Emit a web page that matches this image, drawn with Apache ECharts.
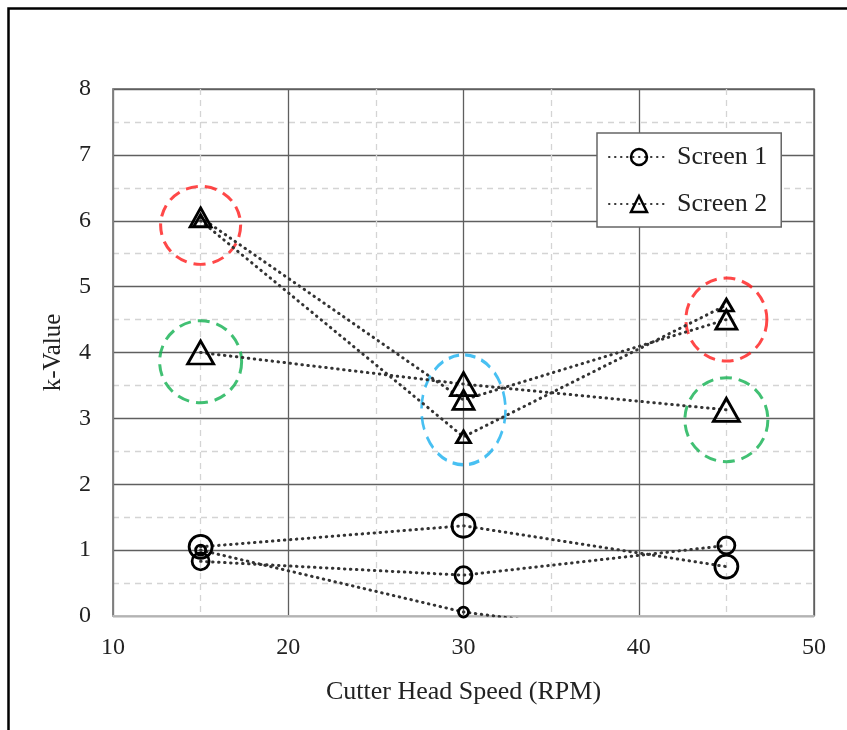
<!DOCTYPE html>
<html>
<head>
<meta charset="utf-8">
<script src="https://cdn.jsdelivr.net/npm/echarts@6/dist/echarts.min.js"></script>
<style>
html,body{margin:0;padding:0;background:#fff;}
#chart{width:847px;height:730px;}
</style>
</head>
<body>
<div id="chart"></div>
<script>
// ---- data ----
const speeds = [15, 30, 45];
const screen1Large  = [1.05, 1.37, 0.75];
const screen1Medium = [0.83, 0.62, 1.07];
const screen1Small  = [1.00, 0.06, -0.45];
const screen2Large  = [4.00, 3.52, 3.13];
const screen2Medium = [6.05, 3.28, 4.50];
const screen2Small  = [6.00, 2.72, 4.72];
const xTicks = [10, 20, 30, 40, 50];
const yTicks = [0, 1, 2, 3, 4, 5, 6, 7, 8];
// highlight ellipses: [x, y, width px, height px, colour]
const highlightX = [15, 15, 30, 45, 45];
const highlightY = [5.93, 3.86, 3.13, 4.50, 2.98];
const highlightW = [80, 82, 84, 81, 83];
const highlightH = [78, 82, 110, 83, 84];
const highlightC = ['#ff1a1a', '#12b050', '#1ab0ef', '#ff1a1a', '#12b050'];

const FONT = '"Liberation Serif", "Times New Roman", serif';

function pts(arr) { return speeds.map((x, i) => [x, arr[i]]); }

const lineStyle = { color: '#333', width: 3, type: [0.5, 5.5], cap: 'round' };
function mkLine(name, arr, symbol, size) {
  return {
    name: name, type: 'line', data: pts(arr), symbol: symbol, symbolSize: size,
    clip: true, lineStyle: lineStyle,
    itemStyle: { color: 'rgba(0,0,0,0)', borderColor: '#000', borderWidth: 2.8 },
    emphasis: { disabled: true }, z: 3
  };
}

const series = [
  mkLine('Screen 1', screen1Large, 'circle', 23),
  mkLine('Screen 1', screen1Medium, 'circle', 17),
  mkLine('Screen 1', screen1Small, 'circle', 10),
  mkLine('Screen 2', screen2Large, 'triangle', [26, 23]),
  mkLine('Screen 2', screen2Medium, 'triangle', [21, 19]),
  mkLine('Screen 2', screen2Small, 'triangle', [14, 12])
];
highlightX.forEach((x, i) => {
  series.push({
    name: 'hl' + i, type: 'scatter', data: [[x, highlightY[i]]],
    symbol: 'circle', symbolSize: [highlightW[i], highlightH[i]],
    itemStyle: { color: 'rgba(0,0,0,0)', borderColor: highlightC[i], borderWidth: 3, borderType: [12, 7] },
    emphasis: { disabled: true }, z: 2, silent: true
  });
});

const chart = echarts.init(document.getElementById('chart'));
chart.setOption({
  animation: false,
  backgroundColor: '#fff',
  graphic: [{
    type: 'rect', left: 6, top: 6, z: 100, silent: true,
    shape: { width: 900, height: 800 },
    style: { fill: 'none', stroke: '#000', lineWidth: 2.5 }
  }],
  grid: { left: 113, right: 33, top: 89, bottom: 114, show: true, borderColor: '#666', borderWidth: 1.5 },
  legend: {
    data: [
      { name: 'Screen 1', itemStyle: { borderWidth: 2.5 } },
      { name: 'Screen 2', itemStyle: { borderWidth: 2.5 } }
    ],
    orient: 'vertical', left: 597, top: 133,
    padding: [11, 14, 10, 11], itemWidth: 60, itemHeight: 20, itemGap: 21,
    backgroundColor: '#fff', borderColor: '#666', borderWidth: 1.5,
    textStyle: { fontFamily: FONT, fontSize: 26, color: '#222', lineHeight: 26, padding: [0, 0, 0, 3] }
  },
  xAxis: {
    type: 'value', min: xTicks[0], max: xTicks[xTicks.length - 1], interval: 10,
    name: 'Cutter Head Speed (RPM)', nameLocation: 'middle', nameGap: 63,
    nameTextStyle: { fontFamily: FONT, fontSize: 26, color: '#222' },
    axisLine: { show: true, lineStyle: { color: '#d0d0d0', width: 1.5 } },
    axisTick: { show: false },
    axisLabel: { fontFamily: FONT, fontSize: 24, color: '#222', margin: 20 },
    splitLine: { show: true, lineStyle: { color: '#5f5f5f', width: 1.3 } },
    minorTick: { show: false, splitNumber: 2 },
    minorSplitLine: { show: true, lineStyle: { color: '#d4d4d4', width: 1.3, type: [6, 5] } }
  },
  yAxis: {
    type: 'value', min: yTicks[0], max: yTicks[yTicks.length - 1], interval: 1,
    name: 'k-Value', nameLocation: 'middle', nameGap: 47, nameRotate: 90,
    nameTextStyle: { fontFamily: FONT, fontSize: 25, color: '#222' },
    axisLine: { show: true, lineStyle: { color: '#888', width: 1.5 } },
    axisTick: { show: false },
    axisLabel: { fontFamily: FONT, fontSize: 24, color: '#222', margin: 22 },
    splitLine: { show: true, lineStyle: { color: '#5f5f5f', width: 1.3 } },
    minorTick: { show: false, splitNumber: 2 },
    minorSplitLine: { show: true, lineStyle: { color: '#d4d4d4', width: 1.3, type: [6, 5] } }
  },
  series: series
});
</script>
</body>
</html>
